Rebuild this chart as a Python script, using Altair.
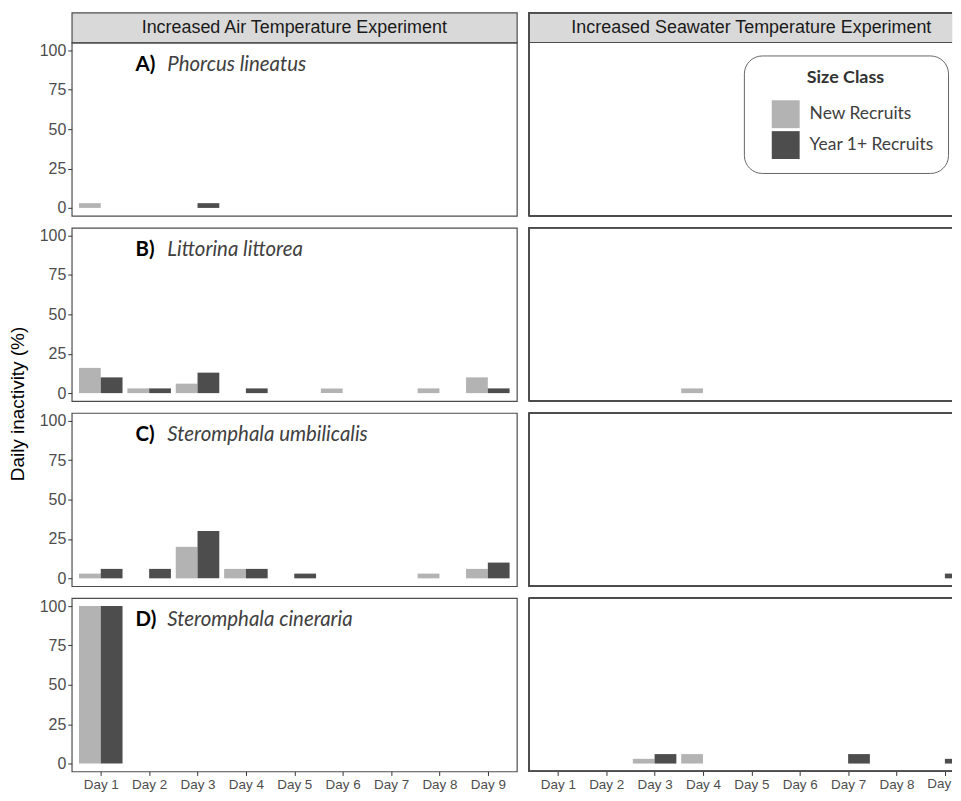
import altair as alt
import pandas as pd

# ---------------- data ----------------
days = ["Day 1", "Day 2", "Day 3", "Day 4", "Day 5", "Day 6", "Day 7", "Day 8", "Day 9"]
size_classes = ["New Recruits", "Year 1+ Recruits"]
experiments = ["Increased Air Temperature Experiment", "Increased Seawater Temperature Experiment"]
panel_letters = ["A)", "B)", "C)", "D)"]
species = ["Phorcus lineatus", "Littorina littorea", "Steromphala umbilicalis", "Steromphala cineraria"]

# Increased air temperature experiment: daily inactivity (%)
air_new_A = [3, 0, 0, 0, 0, 0, 0, 0, 0]
air_old_A = [0, 0, 3, 0, 0, 0, 0, 0, 0]
air_new_B = [16, 3, 6, 0, 0, 3, 0, 3, 10]
air_old_B = [10, 3, 13, 3, 0, 0, 0, 0, 3]
air_new_C = [3, 0, 20, 6, 0, 0, 0, 3, 6]
air_old_C = [6, 6, 30, 6, 3, 0, 0, 0, 10]
air_new_D = [100, 0, 0, 0, 0, 0, 0, 0, 0]
air_old_D = [100, 0, 0, 0, 0, 0, 0, 0, 0]

# Increased seawater temperature experiment: daily inactivity (%)
sea_new_A = [0, 0, 0, 0, 0, 0, 0, 0, 0]
sea_old_A = [0, 0, 0, 0, 0, 0, 0, 0, 0]
sea_new_B = [0, 0, 0, 3, 0, 0, 0, 0, 0]
sea_old_B = [0, 0, 0, 0, 0, 0, 0, 0, 0]
sea_new_C = [0, 0, 0, 0, 0, 0, 0, 0, 0]
sea_old_C = [0, 0, 0, 0, 0, 0, 0, 0, 3]
sea_new_D = [0, 0, 3, 6, 0, 0, 0, 0, 0]
sea_old_D = [0, 0, 6, 0, 0, 0, 6, 0, 3]

series = {
    (0, 0): (air_new_A, air_old_A), (0, 1): (air_new_B, air_old_B),
    (0, 2): (air_new_C, air_old_C), (0, 3): (air_new_D, air_old_D),
    (1, 0): (sea_new_A, sea_old_A), (1, 1): (sea_new_B, sea_old_B),
    (1, 2): (sea_new_C, sea_old_C), (1, 3): (sea_new_D, sea_old_D),
}

rows = []
for (e, s), (new_vals, old_vals) in series.items():
    for cls, vals in zip(size_classes, (new_vals, old_vals)):
        for i, (d, v) in enumerate(zip(days, vals)):
            rows.append({"exp": e, "sp": s, "size": cls, "day": d, "idx": i + 1, "value": v})
df = pd.DataFrame(rows)
day_df = pd.DataFrame({"day": days, "idx": list(range(1, len(days) + 1))})
day_values = list(range(1, len(days) + 1))

# ---------------- styling ----------------
PANEL_W = 447          # full panel width
RIGHT_W = 425          # visible part of the right-hand panels (cut by the page edge)
PANEL_H = 174
STRIP_H = 30
GAP = 10
BORDER = "#4d4d4d"
BW = 1.2
C_NEW = "#b3b3b3"
C_OLD = "#4d4d4d"
TICK_FONT = 13.5
TICK_COLOR = "#4d4d4d"
HALF_BAR = 0.45        # ggplot dodge: each bar is 0.45 of a day wide
X_LO, X_HI = 0.4, len(days) + 0.6
STEP = PANEL_W / (X_HI - X_LO)

x_left = alt.Scale(domain=[X_LO, X_HI], nice=False, zero=False)
x_right = alt.Scale(domain=[X_LO, X_LO + RIGHT_W / STEP], nice=False, zero=False, clamp=True)
y_scale = alt.Scale(domain=[-5, 105], nice=False, zero=False)
color_scale = alt.Scale(domain=size_classes, range=[C_NEW, C_OLD])

legend = alt.Legend(
    title="Size Class", orient="none", legendX=739, legendY=43,
    fillColor="white", strokeColor="#666666", cornerRadius=18, padding=14,
    symbolType="square", symbolSize=784, symbolStrokeWidth=0, symbolOpacity=1,
    symbolOffset=14, labelOffset=10, rowPadding=3,
    labelFont="Lato", labelFontSize=17.5, labelColor="#404040",
    titleFont="Lato", titleFontSize=18, titleFontWeight="bold", titleColor="#333333",
    titleAnchor="middle", titlePadding=13,
)


def border_rules(w, h, sides):
    """Frame lines for views whose right edge is cut off by the page edge."""
    out = []
    for side in sides:
        if side == "left":
            enc = dict(x=alt.value(0), y=alt.value(0), y2=alt.value(h))
        elif side == "top":
            enc = dict(x=alt.value(0), x2=alt.value(w), y=alt.value(0))
        else:
            enc = dict(x=alt.value(0), x2=alt.value(w), y=alt.value(h))
        out.append(alt.Chart(day_df).mark_rule(color=BORDER, strokeWidth=BW).encode(**enc))
    return out


def panel(e, s):
    d = df[(df["exp"] == e) & (df["sp"] == s)]
    bottom = s == 3
    left = e == 0
    xs = x_left if left else x_right
    if bottom:
        label_expr = "'Day ' + datum.value" if left else \
            "datum.value < %d ? 'Day ' + datum.value : ''" % len(days)
        x_axis = alt.Axis(title=None, values=day_values, labelExpr=label_expr, labelAngle=0,
                          domain=False, grid=False, tickSize=4, tickColor="#333333",
                          labelColor=TICK_COLOR, labelFontSize=TICK_FONT, labelPadding=2)
    else:
        x_axis = None
    y_axis = alt.Axis(title=None, values=[0, 25, 50, 75, 100], domain=False, grid=False,
                      tickSize=4, tickColor="#333333", labelColor=TICK_COLOR,
                      labelFontSize=16, labelPadding=2, minExtent=33, maxExtent=33) if left else None
    bars = alt.Chart(d).transform_calculate(
        x0="datum.idx - (datum.size == '%s' ? %s : 0)" % (size_classes[0], HALF_BAR),
        x1="datum.idx + (datum.size == '%s' ? 0 : %s)" % (size_classes[0], HALF_BAR),
    ).mark_bar().encode(
        x=alt.X("x0:Q", scale=xs, axis=x_axis),
        x2="x1:Q",
        y=alt.Y("value:Q", scale=y_scale, axis=y_axis),
        y2=alt.datum(0),
        color=alt.Color("size:N", scale=color_scale, legend=legend),
    )
    layers = [bars]
    if left:
        ann = pd.DataFrame({"label": [panel_letters[s]], "name": [species[s]]})
        letter = alt.Chart(ann).mark_text(
            align="left", baseline="middle", font="Lato", fontSize=20.5,
            fontWeight="bold", color="black", dx=-13.7
        ).encode(x=alt.datum(2), y=alt.datum(91), text="label:N")
        name = alt.Chart(ann).mark_text(
            align="left", baseline="middle", font="Lato", fontSize=20.5,
            fontStyle="italic", color="#404040", dx=18.3
        ).encode(x=alt.datum(2), y=alt.datum(91), text="name:N")
        layers += [letter, name]
        return alt.layer(*layers).properties(width=PANEL_W, height=PANEL_H)
    layers += border_rules(RIGHT_W, PANEL_H, ["left", "top", "bottom"])
    if bottom:
        # last day label, cut by the page edge as in the original figure
        last = alt.Chart(day_df).transform_filter(
            "datum.idx == %d" % len(days)
        ).mark_text(
            align="left", baseline="top", font="Liberation Sans", fontSize=TICK_FONT,
            color=TICK_COLOR, dx=-17.6, limit=24.5, ellipsis="\u200b"
        ).encode(x=alt.X("idx:Q", scale=xs), y=alt.value(PANEL_H + 6), text="day:N")
        layers.append(last)
    return alt.layer(*layers).properties(
        width=RIGHT_W, height=PANEL_H, view=alt.ViewBackground(strokeOpacity=0)
    )


def strip(e):
    w = PANEL_W if e == 0 else RIGHT_W
    t = pd.DataFrame({"t": [experiments[e]]})
    txt = alt.Chart(t).mark_text(
        font="Liberation Sans", fontSize=18, color="#1a1a1a", baseline="middle", align="center"
    ).encode(x=alt.value(PANEL_W / 2), y=alt.value(STRIP_H / 2), text="t:N")
    if e == 0:
        return txt.properties(
            width=w, height=STRIP_H,
            view=alt.ViewBackground(fill="#d9d9d9", stroke=BORDER, strokeWidth=BW),
        )
    return alt.layer(txt, *border_rules(w, STRIP_H, ["left", "top"])).properties(
        width=w, height=STRIP_H,
        view=alt.ViewBackground(fill="#d9d9d9", strokeOpacity=0),
    )


def column(e):
    top = alt.vconcat(strip(e), panel(e, 0), spacing=0, bounds="flush")
    return alt.vconcat(top, panel(e, 1), panel(e, 2), panel(e, 3), spacing=GAP)


total_h = STRIP_H + 4 * PANEL_H + 3 * GAP
ytitle = alt.Chart(pd.DataFrame({"t": ["Daily inactivity (%)"]})).mark_text(
    angle=270, font="Liberation Sans", fontSize=19, color="black",
    baseline="middle", align="center"
).encode(x=alt.value(10), y=alt.value(STRIP_H + 2 * PANEL_H + GAP + GAP / 2), text="t:N").properties(
    width=20, height=total_h, view=alt.ViewBackground(strokeOpacity=0)
)

chart = alt.hconcat(ytitle, column(0), column(1), spacing=10).properties(
    padding={"left": 0, "top": 2, "right": 0, "bottom": 0}
).configure(font="Liberation Sans").configure_view(
    stroke=BORDER, strokeWidth=BW
)

chart.save("out.html", embed_options={"renderer": "svg", "actions": False})
